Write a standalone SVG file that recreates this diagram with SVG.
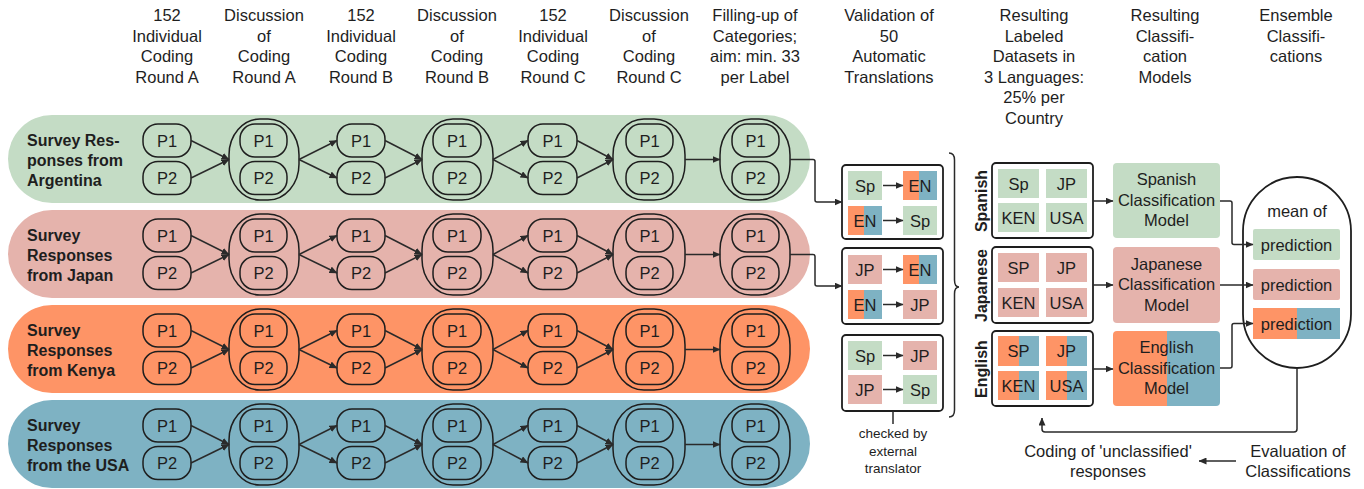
<svg xmlns="http://www.w3.org/2000/svg" width="1364" height="489" viewBox="0 0 1364 489">
<style>
text{font-family:"Liberation Sans",Arial,sans-serif;fill:#1e1e1e;}
.h{font-size:16.5px;text-anchor:middle;}
.lbl{font-size:16px;font-weight:bold;}
.p{font-size:16.5px;text-anchor:middle;}
.t{font-size:16.5px;text-anchor:middle;}
.sm{font-size:13.5px;text-anchor:middle;}
.nd{fill:none;stroke:#1e1e1e;stroke-width:1.5;}
.ov{fill:none;stroke:#1e1e1e;stroke-width:1.5;}
.box{fill:#fff;stroke:#1e1e1e;stroke-width:1.8;}
.ln{fill:none;stroke:#2a2a2a;stroke-width:1.5;}
.arr{fill:none;stroke:#2a2a2a;stroke-width:1.5;marker-end:url(#ah);}
.g{fill:#c4dcc5;}
.pk{fill:#e5b3ac;}
.o{fill:#fe9466;}
.b{fill:#7eb2c3;}
</style>
<defs>
<marker id="ah" markerWidth="8" markerHeight="7" refX="7.5" refY="3.5" orient="auto" markerUnits="userSpaceOnUse">
<path d="M0,0 L8,3.5 L0,7 z" fill="#2a2a2a"/>
</marker>
</defs>

<g id="headers">
<text class="h" x="167" y="21">152<tspan x="167" dy="20.5">Individual</tspan><tspan x="167" dy="20.5">Coding</tspan><tspan x="167" dy="20.5">Round A</tspan></text>
<text class="h" x="264" y="21">Discussion<tspan x="264" dy="20.5">of</tspan><tspan x="264" dy="20.5">Coding</tspan><tspan x="264" dy="20.5">Round A</tspan></text>
<text class="h" x="361" y="21">152<tspan x="361" dy="20.5">Individual</tspan><tspan x="361" dy="20.5">Coding</tspan><tspan x="361" dy="20.5">Round B</tspan></text>
<text class="h" x="457" y="21">Discussion<tspan x="457" dy="20.5">of</tspan><tspan x="457" dy="20.5">Coding</tspan><tspan x="457" dy="20.5">Round B</tspan></text>
<text class="h" x="553" y="21">152<tspan x="553" dy="20.5">Individual</tspan><tspan x="553" dy="20.5">Coding</tspan><tspan x="553" dy="20.5">Round C</tspan></text>
<text class="h" x="649" y="21">Discussion<tspan x="649" dy="20.5">of</tspan><tspan x="649" dy="20.5">Coding</tspan><tspan x="649" dy="20.5">Round C</tspan></text>
<text class="h" x="755" y="21">Filling-up of<tspan x="755" dy="20.5">Categories;</tspan><tspan x="755" dy="20.5">aim: min. 33</tspan><tspan x="755" dy="20.5">per Label</tspan></text>
<text class="h" x="889" y="21">Validation of<tspan x="889" dy="20.5">50</tspan><tspan x="889" dy="20.5">Automatic</tspan><tspan x="889" dy="20.5">Translations</tspan></text>
<text class="h" x="1034" y="21">Resulting<tspan x="1034" dy="20.5">Labeled</tspan><tspan x="1034" dy="20.5">Datasets in</tspan><tspan x="1034" dy="20.5">3 Languages:</tspan><tspan x="1034" dy="20.5">25% per</tspan><tspan x="1034" dy="20.5">Country</tspan></text>
<text class="h" x="1165" y="21">Resulting<tspan x="1165" dy="20.5">Classifi-</tspan><tspan x="1165" dy="20.5">cation</tspan><tspan x="1165" dy="20.5">Models</tspan></text>
<text class="h" x="1296" y="21">Ensemble<tspan x="1296" dy="20.5">Classifi-</tspan><tspan x="1296" dy="20.5">cations</tspan></text>
</g>

<g id="row-argentina">
<rect class="g" x="8" y="115" width="802" height="88" rx="44"/>
<text class="lbl" x="27" y="146">Survey Res-<tspan x="27" dy="20">ponses from</tspan><tspan x="27" dy="20">Argentina</tspan></text>
</g>
<g id="row-japan">
<rect class="pk" x="8" y="210" width="802" height="88" rx="44"/>
<text class="lbl" x="27" y="241">Survey<tspan x="27" dy="20">Responses</tspan><tspan x="27" dy="20">from Japan</tspan></text>
</g>
<g id="row-kenya">
<rect class="o" x="8" y="305" width="802" height="88" rx="44"/>
<text class="lbl" x="27" y="336">Survey<tspan x="27" dy="20">Responses</tspan><tspan x="27" dy="20">from Kenya</tspan></text>
</g>
<g id="row-usa">
<rect class="b" x="8" y="400" width="802" height="88" rx="44"/>
<text class="lbl" x="27" y="431">Survey<tspan x="27" dy="20">Responses</tspan><tspan x="27" dy="20">from the USA</tspan></text>
</g>

<g id="r1c1"><rect class="nd" x="143" y="124" width="48" height="33" rx="15"/><text class="p" x="167" y="146.5">P1</text><rect class="nd" x="143" y="161.5" width="48" height="33" rx="15"/><text class="p" x="167" y="184">P2</text></g>
<g id="r1c2"><rect class="ov" x="229" y="119" width="70" height="81" rx="31" ry="36"/><rect class="nd" x="240" y="124" width="47" height="33" rx="15"/><text class="p" x="263.5" y="146.5">P1</text><rect class="nd" x="240" y="161.5" width="47" height="33" rx="15"/><text class="p" x="263.5" y="184">P2</text></g>
<g id="r1c3"><rect class="nd" x="337" y="124" width="48" height="33" rx="15"/><text class="p" x="361" y="146.5">P1</text><rect class="nd" x="337" y="161.5" width="48" height="33" rx="15"/><text class="p" x="361" y="184">P2</text></g>
<g id="r1c4"><rect class="ov" x="422" y="119" width="71" height="81" rx="31" ry="36"/><rect class="nd" x="433" y="124" width="48" height="33" rx="15"/><text class="p" x="457" y="146.5">P1</text><rect class="nd" x="433" y="161.5" width="48" height="33" rx="15"/><text class="p" x="457" y="184">P2</text></g>
<g id="r1c5"><rect class="nd" x="528" y="124" width="49" height="33" rx="15"/><text class="p" x="552.5" y="146.5">P1</text><rect class="nd" x="528" y="161.5" width="49" height="33" rx="15"/><text class="p" x="552.5" y="184">P2</text></g>
<g id="r1c6"><rect class="ov" x="613" y="119" width="72" height="81" rx="31" ry="36"/><rect class="nd" x="626" y="124" width="47" height="33" rx="15"/><text class="p" x="649.5" y="146.5">P1</text><rect class="nd" x="626" y="161.5" width="47" height="33" rx="15"/><text class="p" x="649.5" y="184">P2</text></g>
<g id="r1c7"><rect class="ov" x="720" y="119" width="70" height="81" rx="31" ry="36"/><rect class="nd" x="732" y="124" width="47" height="33" rx="15"/><text class="p" x="755.5" y="146.5">P1</text><rect class="nd" x="732" y="161.5" width="47" height="33" rx="15"/><text class="p" x="755.5" y="184">P2</text></g>

<g id="r2c1" transform="translate(0,95)"><rect class="nd" x="143" y="124" width="48" height="33" rx="15"/><text class="p" x="167" y="146.5">P1</text><rect class="nd" x="143" y="161.5" width="48" height="33" rx="15"/><text class="p" x="167" y="184">P2</text></g>
<g id="r2c2" transform="translate(0,95)"><rect class="ov" x="229" y="119" width="70" height="81" rx="31" ry="36"/><rect class="nd" x="240" y="124" width="47" height="33" rx="15"/><text class="p" x="263.5" y="146.5">P1</text><rect class="nd" x="240" y="161.5" width="47" height="33" rx="15"/><text class="p" x="263.5" y="184">P2</text></g>
<g id="r2c3" transform="translate(0,95)"><rect class="nd" x="337" y="124" width="48" height="33" rx="15"/><text class="p" x="361" y="146.5">P1</text><rect class="nd" x="337" y="161.5" width="48" height="33" rx="15"/><text class="p" x="361" y="184">P2</text></g>
<g id="r2c4" transform="translate(0,95)"><rect class="ov" x="422" y="119" width="71" height="81" rx="31" ry="36"/><rect class="nd" x="433" y="124" width="48" height="33" rx="15"/><text class="p" x="457" y="146.5">P1</text><rect class="nd" x="433" y="161.5" width="48" height="33" rx="15"/><text class="p" x="457" y="184">P2</text></g>
<g id="r2c5" transform="translate(0,95)"><rect class="nd" x="528" y="124" width="49" height="33" rx="15"/><text class="p" x="552.5" y="146.5">P1</text><rect class="nd" x="528" y="161.5" width="49" height="33" rx="15"/><text class="p" x="552.5" y="184">P2</text></g>
<g id="r2c6" transform="translate(0,95)"><rect class="ov" x="613" y="119" width="72" height="81" rx="31" ry="36"/><rect class="nd" x="626" y="124" width="47" height="33" rx="15"/><text class="p" x="649.5" y="146.5">P1</text><rect class="nd" x="626" y="161.5" width="47" height="33" rx="15"/><text class="p" x="649.5" y="184">P2</text></g>
<g id="r2c7" transform="translate(0,95)"><rect class="ov" x="720" y="119" width="70" height="81" rx="31" ry="36"/><rect class="nd" x="732" y="124" width="47" height="33" rx="15"/><text class="p" x="755.5" y="146.5">P1</text><rect class="nd" x="732" y="161.5" width="47" height="33" rx="15"/><text class="p" x="755.5" y="184">P2</text></g>

<g id="r3c1" transform="translate(0,190)"><rect class="nd" x="143" y="124" width="48" height="33" rx="15"/><text class="p" x="167" y="146.5">P1</text><rect class="nd" x="143" y="161.5" width="48" height="33" rx="15"/><text class="p" x="167" y="184">P2</text></g>
<g id="r3c2" transform="translate(0,190)"><rect class="ov" x="229" y="119" width="70" height="81" rx="31" ry="36"/><rect class="nd" x="240" y="124" width="47" height="33" rx="15"/><text class="p" x="263.5" y="146.5">P1</text><rect class="nd" x="240" y="161.5" width="47" height="33" rx="15"/><text class="p" x="263.5" y="184">P2</text></g>
<g id="r3c3" transform="translate(0,190)"><rect class="nd" x="337" y="124" width="48" height="33" rx="15"/><text class="p" x="361" y="146.5">P1</text><rect class="nd" x="337" y="161.5" width="48" height="33" rx="15"/><text class="p" x="361" y="184">P2</text></g>
<g id="r3c4" transform="translate(0,190)"><rect class="ov" x="422" y="119" width="71" height="81" rx="31" ry="36"/><rect class="nd" x="433" y="124" width="48" height="33" rx="15"/><text class="p" x="457" y="146.5">P1</text><rect class="nd" x="433" y="161.5" width="48" height="33" rx="15"/><text class="p" x="457" y="184">P2</text></g>
<g id="r3c5" transform="translate(0,190)"><rect class="nd" x="528" y="124" width="49" height="33" rx="15"/><text class="p" x="552.5" y="146.5">P1</text><rect class="nd" x="528" y="161.5" width="49" height="33" rx="15"/><text class="p" x="552.5" y="184">P2</text></g>
<g id="r3c6" transform="translate(0,190)"><rect class="ov" x="613" y="119" width="72" height="81" rx="31" ry="36"/><rect class="nd" x="626" y="124" width="47" height="33" rx="15"/><text class="p" x="649.5" y="146.5">P1</text><rect class="nd" x="626" y="161.5" width="47" height="33" rx="15"/><text class="p" x="649.5" y="184">P2</text></g>
<g id="r3c7" transform="translate(0,190)"><rect class="ov" x="720" y="119" width="70" height="81" rx="31" ry="36"/><rect class="nd" x="732" y="124" width="47" height="33" rx="15"/><text class="p" x="755.5" y="146.5">P1</text><rect class="nd" x="732" y="161.5" width="47" height="33" rx="15"/><text class="p" x="755.5" y="184">P2</text></g>

<g id="r4c1" transform="translate(0,285)"><rect class="nd" x="143" y="124" width="48" height="33" rx="15"/><text class="p" x="167" y="146.5">P1</text><rect class="nd" x="143" y="161.5" width="48" height="33" rx="15"/><text class="p" x="167" y="184">P2</text></g>
<g id="r4c2" transform="translate(0,285)"><rect class="ov" x="229" y="119" width="70" height="81" rx="31" ry="36"/><rect class="nd" x="240" y="124" width="47" height="33" rx="15"/><text class="p" x="263.5" y="146.5">P1</text><rect class="nd" x="240" y="161.5" width="47" height="33" rx="15"/><text class="p" x="263.5" y="184">P2</text></g>
<g id="r4c3" transform="translate(0,285)"><rect class="nd" x="337" y="124" width="48" height="33" rx="15"/><text class="p" x="361" y="146.5">P1</text><rect class="nd" x="337" y="161.5" width="48" height="33" rx="15"/><text class="p" x="361" y="184">P2</text></g>
<g id="r4c4" transform="translate(0,285)"><rect class="ov" x="422" y="119" width="71" height="81" rx="31" ry="36"/><rect class="nd" x="433" y="124" width="48" height="33" rx="15"/><text class="p" x="457" y="146.5">P1</text><rect class="nd" x="433" y="161.5" width="48" height="33" rx="15"/><text class="p" x="457" y="184">P2</text></g>
<g id="r4c5" transform="translate(0,285)"><rect class="nd" x="528" y="124" width="49" height="33" rx="15"/><text class="p" x="552.5" y="146.5">P1</text><rect class="nd" x="528" y="161.5" width="49" height="33" rx="15"/><text class="p" x="552.5" y="184">P2</text></g>
<g id="r4c6" transform="translate(0,285)"><rect class="ov" x="613" y="119" width="72" height="81" rx="31" ry="36"/><rect class="nd" x="626" y="124" width="47" height="33" rx="15"/><text class="p" x="649.5" y="146.5">P1</text><rect class="nd" x="626" y="161.5" width="47" height="33" rx="15"/><text class="p" x="649.5" y="184">P2</text></g>
<g id="r4c7" transform="translate(0,285)"><rect class="ov" x="720" y="119" width="70" height="81" rx="31" ry="36"/><rect class="nd" x="732" y="124" width="47" height="33" rx="15"/><text class="p" x="755.5" y="146.5">P1</text><rect class="nd" x="732" y="161.5" width="47" height="33" rx="15"/><text class="p" x="755.5" y="184">P2</text></g>

<g id="trans-sp-en">
<rect class="box" x="842" y="165" width="101" height="74" rx="4"/>
<rect class="g" x="848" y="171" width="34" height="29"/><text class="t" x="865" y="191.5">Sp</text>
<rect class="o" x="903" y="171" width="16" height="29"/><rect class="b" x="919" y="171" width="18" height="29"/><text class="t" x="920" y="191.5">EN</text>
<rect class="o" x="848" y="206" width="16" height="29"/><rect class="b" x="864" y="206" width="18" height="29"/><text class="t" x="865" y="226.5">EN</text>
<rect class="g" x="903" y="206" width="34" height="29"/><text class="t" x="920" y="226.5">Sp</text>
</g>
<g id="trans-jp-en">
<rect class="box" x="842" y="248" width="101" height="76" rx="4"/>
<rect class="pk" x="848" y="255" width="34" height="29"/><text class="t" x="865" y="275.5">JP</text>
<rect class="o" x="903" y="255" width="16" height="29"/><rect class="b" x="919" y="255" width="18" height="29"/><text class="t" x="920" y="275.5">EN</text>
<rect class="o" x="848" y="290" width="16" height="29"/><rect class="b" x="864" y="290" width="18" height="29"/><text class="t" x="865" y="310.5">EN</text>
<rect class="pk" x="903" y="290" width="34" height="29"/><text class="t" x="920" y="310.5">JP</text>
</g>
<g id="trans-sp-jp">
<rect class="box" x="842" y="335" width="101" height="76" rx="4"/>
<rect class="g" x="848" y="341" width="34" height="29"/><text class="t" x="865" y="361.5">Sp</text>
<rect class="pk" x="903" y="341" width="34" height="29"/><text class="t" x="920" y="361.5">JP</text>
<rect class="pk" x="848" y="375" width="34" height="29"/><text class="t" x="865" y="395.5">JP</text>
<rect class="g" x="903" y="375" width="34" height="29"/><text class="t" x="920" y="395.5">Sp</text>
</g>
<g id="checked-note">
<text class="sm" x="893" y="438">checked by<tspan x="893" dy="17.5">external</tspan><tspan x="893" dy="17.5">translator</tspan></text>
</g>
<g id="brace">
<path class="ln" d="M949,153 Q954.5,153 954.5,160 L954.5,280 Q954.5,287 959,287 Q954.5,287 954.5,294 L954.5,410 Q954.5,417 949,417"/>
</g>

<g id="ds-spanish">
<text class="lbl" text-anchor="middle" transform="translate(986.5,201) rotate(-90)">Spanish</text>
<rect class="box" x="992" y="163" width="101" height="75" rx="4"/>
<rect class="g" x="998" y="169" width="41" height="29"/><text class="t" x="1018.5" y="189.5">Sp</text>
<rect class="g" x="1046" y="169" width="41" height="29"/><text class="t" x="1066.5" y="189.5">JP</text>
<rect class="g" x="998" y="203" width="41" height="29"/><text class="t" x="1018.5" y="223.5">KEN</text>
<rect class="g" x="1046" y="203" width="41" height="29"/><text class="t" x="1066.5" y="223.5">USA</text>
</g>
<g id="ds-japanese">
<text class="lbl" text-anchor="middle" transform="translate(986.5,285.5) rotate(-90)">Japanese</text>
<rect class="box" x="992" y="247" width="101" height="76" rx="4"/>
<rect class="pk" x="998" y="253" width="41" height="29"/><text class="t" x="1018.5" y="273.5">SP</text>
<rect class="pk" x="1046" y="253" width="41" height="29"/><text class="t" x="1066.5" y="273.5">JP</text>
<rect class="pk" x="998" y="288" width="41" height="29"/><text class="t" x="1018.5" y="308.5">KEN</text>
<rect class="pk" x="1046" y="288" width="41" height="29"/><text class="t" x="1066.5" y="308.5">USA</text>
</g>
<g id="ds-english">
<text class="lbl" text-anchor="middle" transform="translate(986.5,369) rotate(-90)">English</text>
<rect class="box" x="992" y="331" width="101" height="75" rx="4"/>
<rect class="o" x="998" y="336" width="21" height="30"/><rect class="b" x="1019" y="336" width="20" height="30"/><text class="t" x="1018.5" y="357">SP</text>
<rect class="o" x="1046" y="336" width="21" height="30"/><rect class="b" x="1067" y="336" width="20" height="30"/><text class="t" x="1066.5" y="357">JP</text>
<rect class="o" x="998" y="371" width="21" height="29"/><rect class="b" x="1019" y="371" width="20" height="29"/><text class="t" x="1018.5" y="391.5">KEN</text>
<rect class="o" x="1046" y="371" width="21" height="29"/><rect class="b" x="1067" y="371" width="20" height="29"/><text class="t" x="1066.5" y="391.5">USA</text>
</g>

<g id="model-spanish">
<rect class="g" x="1113" y="163" width="107" height="75" rx="4"/>
<text class="t" x="1166.5" y="185">Spanish<tspan x="1166.5" dy="20.5">Classification</tspan><tspan x="1166.5" dy="20.5">Model</tspan></text>
</g>
<g id="model-japanese">
<rect class="pk" x="1113" y="247" width="107" height="76" rx="4"/>
<text class="t" x="1166.5" y="269.5">Japanese<tspan x="1166.5" dy="20.5">Classification</tspan><tspan x="1166.5" dy="20.5">Model</tspan></text>
</g>
<g id="model-english">
<path class="o" d="M1117,331 H1167 V406 H1117 Q1113,406 1113,402 V335 Q1113,331 1117,331 Z"/>
<path class="b" d="M1167,331 H1216 Q1220,331 1220,335 V402 Q1220,406 1216,406 H1167 Z"/>
<text class="t" x="1166.5" y="353">English<tspan x="1166.5" dy="20.5">Classification</tspan><tspan x="1166.5" dy="20.5">Model</tspan></text>
</g>

<g id="ensemble">
<rect x="1243" y="177" width="108" height="191" rx="54" fill="#fff" stroke="#1e1e1e" stroke-width="1.8"/>
<text class="t" x="1297" y="217">mean of</text>
<rect class="g" x="1253" y="229" width="87" height="31" rx="2"/><text class="t" x="1296.5" y="250.5">prediction</text>
<rect class="pk" x="1253" y="269" width="87" height="31" rx="2"/><text class="t" x="1296.5" y="290.5">prediction</text>
<rect class="o" x="1253" y="308" width="44" height="31"/><rect class="b" x="1297" y="308" width="43" height="31"/><text class="t" x="1296.5" y="329.5">prediction</text>
</g>

<g id="bottom-labels">
<text class="t" x="1108" y="457">Coding of 'unclassified'<tspan x="1108" dy="20">responses</tspan></text>
<text class="t" x="1298" y="457">Evaluation of<tspan x="1298" dy="20">Classifications</tspan></text>
</g>

<g id="connectors">
<g id="row-connectors">
<path class="arr" d="M191,140.5 L229,159.5"/><path class="arr" d="M191,178 L229,159.5"/>
<path class="arr" d="M299,159.5 L337,140.5"/><path class="arr" d="M299,159.5 L337,178"/>
<path class="arr" d="M385,140.5 L422,159.5"/><path class="arr" d="M385,178 L422,159.5"/>
<path class="arr" d="M493,159.5 L528,140.5"/><path class="arr" d="M493,159.5 L528,178"/>
<path class="arr" d="M577,140.5 L613,159.5"/><path class="arr" d="M577,178 L613,159.5"/>
<path class="arr" d="M685,159.5 L720,159.5"/>

<path class="arr" d="M191,235.5 L229,254.5"/><path class="arr" d="M191,273 L229,254.5"/>
<path class="arr" d="M299,254.5 L337,235.5"/><path class="arr" d="M299,254.5 L337,273"/>
<path class="arr" d="M385,235.5 L422,254.5"/><path class="arr" d="M385,273 L422,254.5"/>
<path class="arr" d="M493,254.5 L528,235.5"/><path class="arr" d="M493,254.5 L528,273"/>
<path class="arr" d="M577,235.5 L613,254.5"/><path class="arr" d="M577,273 L613,254.5"/>
<path class="arr" d="M685,254.5 L720,254.5"/>

<path class="arr" d="M191,330.5 L229,349.5"/><path class="arr" d="M191,368 L229,349.5"/>
<path class="arr" d="M299,349.5 L337,330.5"/><path class="arr" d="M299,349.5 L337,368"/>
<path class="arr" d="M385,330.5 L422,349.5"/><path class="arr" d="M385,368 L422,349.5"/>
<path class="arr" d="M493,349.5 L528,330.5"/><path class="arr" d="M493,349.5 L528,368"/>
<path class="arr" d="M577,330.5 L613,349.5"/><path class="arr" d="M577,368 L613,349.5"/>
<path class="arr" d="M685,349.5 L720,349.5"/>

<path class="arr" d="M191,425.5 L229,444.5"/><path class="arr" d="M191,463 L229,444.5"/>
<path class="arr" d="M299,444.5 L337,425.5"/><path class="arr" d="M299,444.5 L337,463"/>
<path class="arr" d="M385,425.5 L422,444.5"/><path class="arr" d="M385,463 L422,444.5"/>
<path class="arr" d="M493,444.5 L528,425.5"/><path class="arr" d="M493,444.5 L528,463"/>
<path class="arr" d="M577,425.5 L613,444.5"/><path class="arr" d="M577,463 L613,444.5"/>
<path class="arr" d="M685,444.5 L720,444.5"/>
</g>
<path class="arr" d="M790,159.5 H813 Q815,159.5 815,161.5 V200 Q815,202 817,202 H842"/>
<path class="arr" d="M790,254.5 H813 Q815,254.5 815,256.5 V284 Q815,286 817,286 H842"/>
<path class="arr" d="M883,185.5 H903"/><path class="arr" d="M883,220.5 H903"/>
<path class="arr" d="M883,269.5 H903"/><path class="arr" d="M883,304.5 H903"/>
<path class="arr" d="M883,355.5 H903"/><path class="arr" d="M883,389.5 H903"/>
<path class="ln" d="M893,411 V424"/>
<path class="arr" d="M1093,201 H1113"/>
<path class="arr" d="M1093,285 H1113"/>
<path class="arr" d="M1093,369 H1113"/>
<path class="arr" d="M1220,201 H1230 Q1232,201 1232,203 V242.5 Q1232,244.5 1234,244.5 H1253"/>
<path class="arr" d="M1220,285 H1253"/>
<path class="arr" d="M1220,368 H1230 Q1232,368 1232,366 V325.5 Q1232,323.5 1234,323.5 H1253"/>
<path class="arr" d="M1297,368 V429 Q1297,432 1294,432 H1045 Q1042,432 1042,429 V418"/>
<path class="arr" d="M1236,461 H1199"/>
</g>
</svg>
